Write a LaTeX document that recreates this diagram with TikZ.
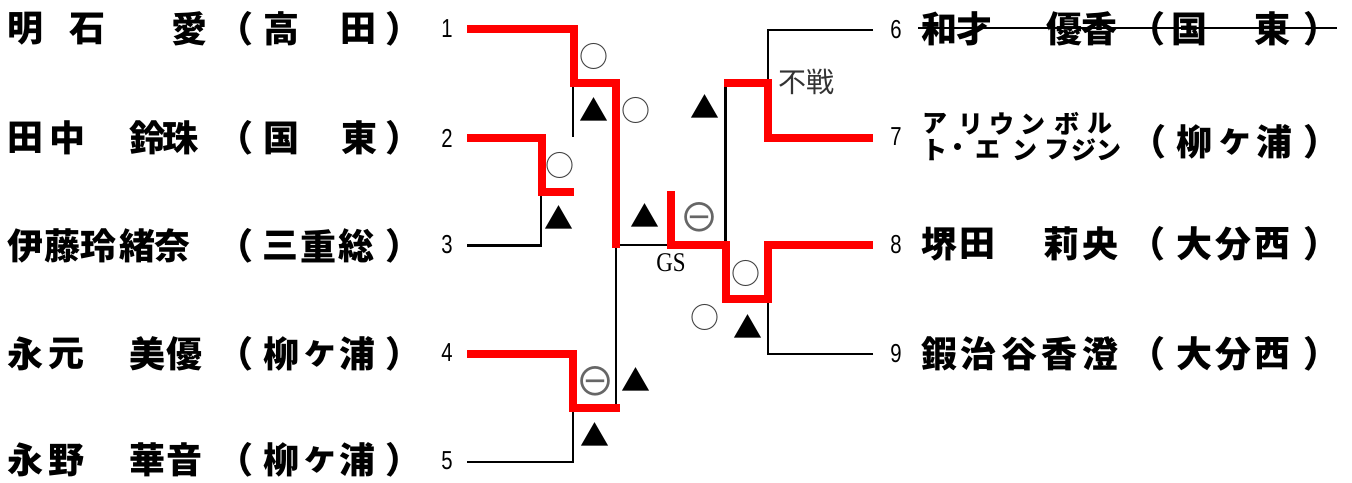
\documentclass[tikz,border=0pt]{standalone}
\usepackage{fontspec}
\usepackage{graphicx}
\setmainfont{Liberation Serif}
\newfontfamily\jp{Noto Sans CJK JP}
\newfontfamily\ls{Liberation Sans}
\newfontfamily\lserif{Liberation Serif}
\begin{document}
\begin{tikzpicture}[x=1pt,y=-1pt,
  redl/.style={draw=red,line width=8pt,line join=miter},
  blk/.style={draw=black,line width=2.5pt},
  jn/.style={inner sep=0pt,font=\jp\bfseries\fontsize{36}{36}\selectfont},
  kn/.style={inner sep=0pt,font=\jp\bfseries\fontsize{25}{25}\selectfont},
  num/.style={inner sep=0pt,font=\ls\fontsize{26}{26}\selectfont},
  circ/.style={inner sep=0pt,text=black!75,font=\jp\fontsize{29}{29}\selectfont},
  tri/.style={inner sep=0pt,font=\jp\fontsize{29}{29}\selectfont},
  ominus/.style={inner sep=0pt,text=black!60,font=\jp\fontsize{40}{40}\selectfont}]
\useasboundingbox (0,0) rectangle (1352,482);

% ---- black lines
\draw[blk] (467,245.5) -| (541,191.5);
\draw[blk] (573,83) -- (573,137);
\draw[blk] (616,245) -- (616,408);
\draw[blk] (616,245) -- (671,245);
\draw[blk] (467,462) -| (573,408);
\draw[blk] (873,30) -| (768,83);
\draw[blk] (725.5,83) -- (725.5,245);
\draw[blk] (873,354) -| (768,299);
% ---- red lines
\draw[redl] (467,29) -| (573.5,83) -| (616,248);
\draw[redl] (467,137.5) -| (541.5,191.5) -- (574,191.5);
\draw[redl] (467,353.5) -| (573,408) -- (620,408);
\draw[redl] (724,83) -| (768,137.5) -- (873,137.5);
\draw[redl] (671,191) |- (726,245) |- (768,299) |- (873,245);

% ---- numbers
\foreach \n/\y in {1/29,2/138,3/245,4/353,5/461}
  \node[num] (nl\n) at (447,\y) {\scalebox{0.78}[1]{\n}};
\foreach \n/\y in {6/30,7/137,8/245,9/354}
  \node[num] (nr\n) at (896,\y) {\scalebox{0.78}[1]{\n}};

% ---- left names
\foreach \x/\c [count=\i] in {26/明,87/石,189/愛,235/（,281/高,358/田,403/）}
  \node[jn] (a\i) at (\x,29) {\c};
\foreach \x/\c [count=\i] in {26/田,67/中,147/鈴,180/珠,235/（,281/国,359/東,403/）}
  \node[jn] (b\i) at (\x,138) {\c};
\foreach \x/\c [count=\i] in {26/伊,62/藤,98/玲,137/緒,172/奈,235/（,280/三,318/重,356/総,403/）}
  \node[jn] (c\i) at (\x,246) {\c};
\foreach \x/\c [count=\i] in {26/永,66/元,147/美,184/優,235/（,281/柳,320/ヶ,357/浦,403/）}
  \node[jn] (d\i) at (\x,354) {\c};
\foreach \x/\c [count=\i] in {26/永,66/野,147/華,184/音,235/（,281/柳,320/ヶ,357/浦,403/）}
  \node[jn] (e\i) at (\x,460) {\c};

% ---- right names
\foreach \x/\c [count=\i] in {939/和,974/才,1064/優,1099/香,1147/（,1189/国,1272/東,1321/）}
  \node[jn] (f\i) at (\x,29) {\c};
\draw[line width=2pt] (918,28) -- (1337,28);
\foreach \x/\c [count=\i] in {935/ア,971/リ,1002/ウ,1033/ン,1067/ボ,1100/ル}
  \node[kn] (g\i) at (\x,124) {\c};
\foreach \x/\c [count=\i] in {935/ト,958/・,988/エ,1025/ン,1057/フ,1084/ジ,1109/ン}
  \node[kn] (h\i) at (\x,150) {\c};
\foreach \x/\c [count=\i] in {1148/（,1194/柳,1235/ヶ,1274/浦,1321/）}
  \node[jn] (k\i) at (\x,142) {\c};
\foreach \x/\c [count=\i] in {939/堺,977/田,1061/莉,1100/央,1147/（,1194/大,1233/分,1272/西,1321/）}
  \node[jn] (m\i) at (\x,244) {\c};
\foreach \x/\c [count=\i] in {939/鍜,978/治,1019/谷,1059/香,1100/澄,1147/（,1194/大,1233/分,1272/西,1321/）}
  \node[jn] (p\i) at (\x,354) {\c};

% ---- results
\node[circ] (o1) at (593.5,56) {○};
\node[tri]  (t1) at (594,110) {▲};
\node[circ] (o2) at (636,110) {○};
\node[circ] (o3) at (560,165) {○};
\node[tri]  (t2) at (558.5,218) {▲};
\node[tri]  (t3) at (644.5,216) {▲};
\node[ominus] (m1) at (699,217) {⊖};
\node[tri]  (t4) at (705,107) {▲};
\node[ominus] (m2) at (595,381) {⊖};
\node[tri]  (t5) at (636,380) {▲};
\node[tri]  (t6) at (595,435) {▲};
\node[circ] (o4) at (746,273) {○};
\node[circ] (o5) at (705,317) {○};
\node[tri]  (t7) at (748,327) {▲};

\node[inner sep=0pt,text=black!80,font=\jp\fontsize{28}{28}\selectfont] (fusen) at (806,82) {不戦};
\node[inner sep=0pt,font=\lserif\fontsize{27}{27}\selectfont] (gs) at (671,263) {\scalebox{0.85}[1]{GS}};
\end{tikzpicture}
\end{document}
